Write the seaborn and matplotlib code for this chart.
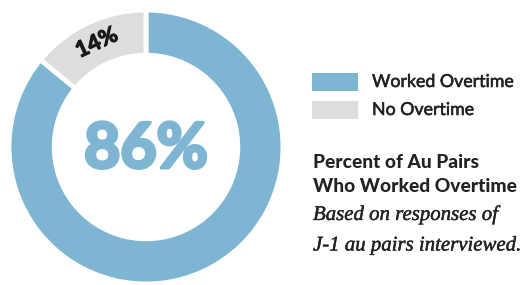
import matplotlib
matplotlib.use("Agg")
import matplotlib.pyplot as plt
import matplotlib.patheffects as pe
import seaborn as sns
from matplotlib.patches import Rectangle

# data
labels = ["Worked Overtime", "No Overtime"]
shares = [86, 14]
colors = ["#7db5d3", "#dcdddf"]
title_lines = ["Percent of Au Pairs", "Who Worked Overtime"]
note_lines = ["Based on responses of", "J-1 au pairs interviewed."]

sns.set_theme(style="white")
plt.rcParams["font.family"] = ["Lato", "DejaVu Sans"]

fig = plt.figure(figsize=(5.26, 2.85), dpi=100)
fig.patch.set_facecolor("white")

# donut
ax = fig.add_axes([9 / 526, 1 / 285, 274 / 526, 274 / 285])
ax.pie(shares, colors=colors, startangle=90, counterclock=False,
       radius=1.0, wedgeprops=dict(width=0.33, edgecolor="white", linewidth=3.5))
ax.set_xlim(-1, 1)
ax.set_ylim(-1, 1)
ax.set_aspect("equal")
ax.axis("off")

ax.text(0, -0.02, f"{shares[0]}%", ha="center", va="center", fontsize=45,
        fontweight="bold", color=colors[0],
        path_effects=[pe.withStroke(linewidth=2.5, foreground=colors[0])])
ax.text(-0.36, 0.76, f"{shares[1]}%", ha="center", va="center", fontsize=16,
        fontweight="bold", color="#1a1a1a", rotation=25,
        path_effects=[pe.withStroke(linewidth=0.8, foreground="#1a1a1a")])

# legend
for i, (lab, c) in enumerate(zip(labels, colors)):
    y = 1 - (73 + 28 * i) / 285
    fig.add_artist(Rectangle((312 / 526, y - 18 / 285), 46 / 526, 18 / 285,
                             transform=fig.transFigure, color=c, lw=0))
    fig.text(372 / 526, y - 9 / 285, lab, ha="left", va="center",
             fontsize=12.8, color="#222222",
             path_effects=[pe.withStroke(linewidth=0.4, foreground="#222222")])

# title and note
for i, line in enumerate(title_lines):
    fig.text(313 / 526, 1 - (163 + 23 * i) / 285, line, ha="left", va="center",
             fontsize=13.8, fontweight="black", color="#222222")
for i, line in enumerate(note_lines):
    fig.text(313 / 526, 1 - (215 + 31 * i) / 285, line, ha="left", va="center",
             fontsize=15, style="italic", color="#222222",
             family=["Liberation Serif", "DejaVu Serif"],
             path_effects=[pe.withStroke(linewidth=0.3, foreground="#222222")])

fig.savefig("out.png", dpi=100)
